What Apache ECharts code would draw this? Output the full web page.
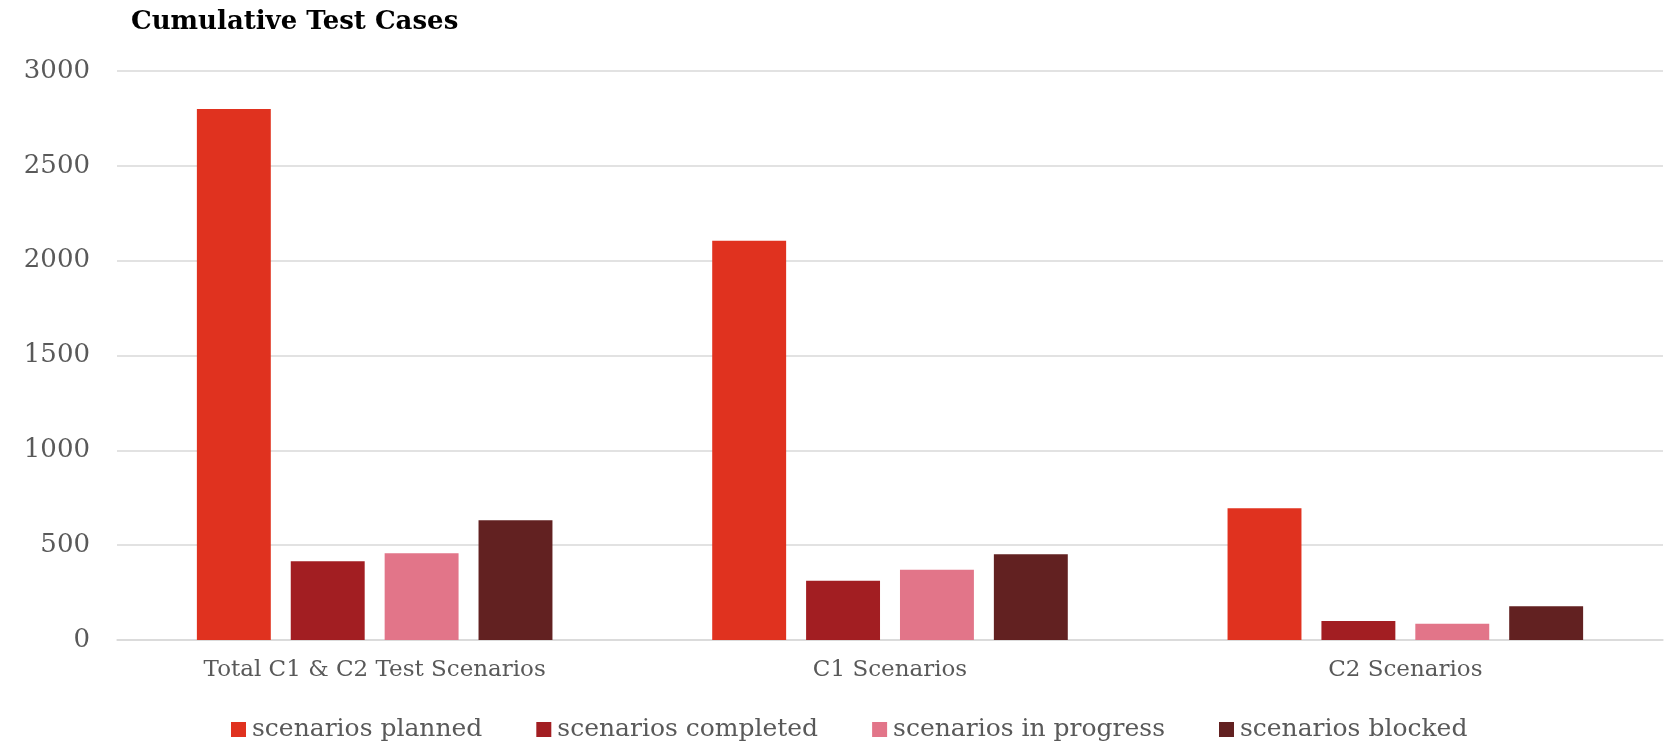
<!DOCTYPE html>
<html>
<head>
<meta charset="utf-8">
<title>Cumulative Test Cases</title>
<script src="https://cdn.jsdelivr.net/npm/echarts@6/dist/echarts.min.js"></script>
<style>
  html, body { margin: 0; padding: 0; background: #ffffff; }
  #chart { width: 1667px; height: 744px; }
</style>
</head>
<body>
<div id="chart"></div>
<script>
// Test scenario counts per scope
const categories = ['Total C1 & C2 Test Scenarios', 'C1 Scenarios', 'C2 Scenarios'];
const seriesNames = ['scenarios planned', 'scenarios completed', 'scenarios in progress', 'scenarios blocked'];
const planned    = [2800, 2105, 695];
const completed  = [415, 312, 100];
const inProgress = [457, 370, 86];
const blocked    = [632, 452, 178];
const yTicks = [0, 500, 1000, 1500, 2000, 2500, 3000];

const colors = ['#E0321F', '#A21E22', '#E27589', '#622121'];
const seriesValues = [planned, completed, inProgress, blocked];
const FONT = '"DejaVu Serif", "Liberation Serif", serif';

const chart = echarts.init(document.getElementById('chart'), null, { renderer: 'canvas' });

chart.setOption({
  animation: false,
  backgroundColor: '#ffffff',
  title: {
    text: 'Cumulative Test Cases',
    left: 126,
    top: 4,
    textStyle: { fontFamily: FONT, fontSize: 26, fontWeight: 'bold', color: '#000000' }
  },
  legend: {
    data: seriesNames,
    left: 226,
    top: 712,
    itemWidth: 15,
    itemHeight: 15,
    itemGap: 54,
    icon: 'rect',
    textStyle: { fontFamily: FONT, fontSize: 25, color: '#595959', padding: [0, 0, 0, 1] }
  },
  grid: { left: 117, right: 4, top: 71, bottom: 104, containLabel: false },
  xAxis: {
    type: 'category',
    data: categories,
    axisLine: { show: true, lineStyle: { color: '#D9D9D9', width: 1.5 } },
    axisTick: { show: false },
    axisLabel: { fontFamily: FONT, fontSize: 23, color: '#595959', margin: 19 }
  },
  yAxis: {
    type: 'value',
    min: yTicks[0],
    max: yTicks[yTicks.length - 1],
    interval: yTicks[1] - yTicks[0],
    axisLine: { show: false },
    axisTick: { show: false },
    splitLine: { lineStyle: { color: '#D9D9D9', width: 1.5 } },
    axisLabel: {
      fontFamily: FONT, fontSize: 26, color: '#595959', margin: 27,
      formatter: (v) => String(v)
    }
  },
  series: seriesNames.map((name, i) => ({
    name: name,
    type: 'bar',
    data: seriesValues[i],
    barGap: '27%',
    barCategoryGap: '31%',
    itemStyle: { color: colors[i] }
  }))
});
</script>
</body>
</html>
